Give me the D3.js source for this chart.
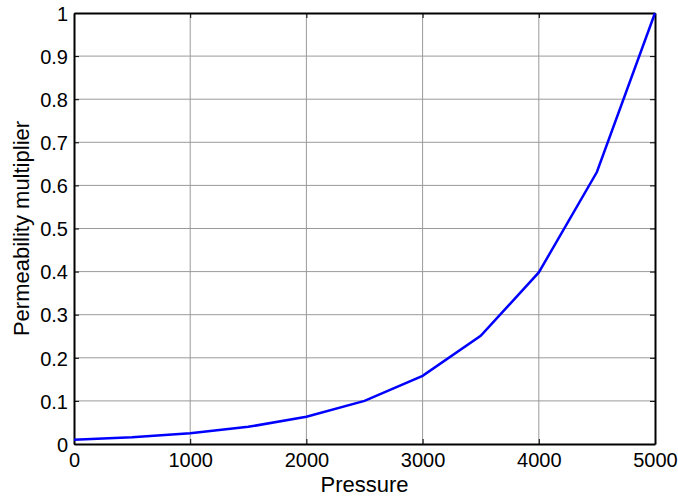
<!DOCTYPE html>
<html>
<head>
<meta charset="utf-8">
<script src="https://cdn.jsdelivr.net/npm/d3@7"></script>
<style>
  body { margin: 0; background: #fff; overflow: hidden; }
  text { font-family: "Liberation Sans", Arial, sans-serif; fill: #000; }
</style>
</head>
<body>
<div id="chart"></div>
<script>
const pressure = [0, 500, 1000, 1500, 2000, 2500, 3000, 3500, 4000, 4500, 5000];
const multiplier = [0.01, 0.0158, 0.0251, 0.0398, 0.0631, 0.1, 0.158, 0.251, 0.398, 0.631, 1.0];
const xTicks = [0, 1000, 2000, 3000, 4000, 5000];
const yTicks = [0, 0.1, 0.2, 0.3, 0.4, 0.5, 0.6, 0.7, 0.8, 0.9, 1];

const width = 678, height = 499;
const margin = { top: 13, right: 23, bottom: 55, left: 74 };
const innerWidth = width - margin.left - margin.right;
const innerHeight = height - margin.top - margin.bottom;

const svg = d3.select("#chart").append("svg")
  .attr("width", width)
  .attr("height", height)
  .style("display", "block");

const g = svg.append("g").attr("transform", `translate(${margin.left}, ${margin.top})`);

const x = d3.scaleLinear().domain([0, 5000]).range([0, innerWidth]);
const y = d3.scaleLinear().domain([0, 1]).range([innerHeight, 0]);

// grid
g.append("g").selectAll("line").data(xTicks.slice(1, -1)).join("line")
  .attr("x1", d => x(d)).attr("x2", d => x(d))
  .attr("y1", 0).attr("y2", innerHeight)
  .attr("stroke", "#9a9a9a").attr("stroke-width", 1);
g.append("g").selectAll("line").data(yTicks.slice(1, -1)).join("line")
  .attr("x1", 0).attr("x2", innerWidth)
  .attr("y1", d => y(d)).attr("y2", d => y(d))
  .attr("stroke", "#9a9a9a").attr("stroke-width", 1);

// axes (ticks pointing inward)
const fmtY = d => d3.format("")(+d.toFixed(1));
const xAxis = g.append("g").attr("transform", `translate(0, ${innerHeight})`)
  .call(d3.axisBottom(x).tickValues(xTicks).tickSizeInner(-5).tickSizeOuter(0).tickPadding(9).tickFormat(d3.format("d")));
const yAxis = g.append("g")
  .call(d3.axisLeft(y).tickValues(yTicks).tickSizeInner(-5).tickSizeOuter(0).tickPadding(6).tickFormat(fmtY));
const xTop = g.append("g")
  .call(d3.axisTop(x).tickValues(xTicks).tickSizeInner(-5).tickSizeOuter(0).tickFormat(""));
const yRight = g.append("g").attr("transform", `translate(${innerWidth}, 0)`)
  .call(d3.axisRight(y).tickValues(yTicks).tickSizeInner(-5).tickSizeOuter(0).tickFormat(""));
xTop.selectAll("text").remove();
yRight.selectAll("text").remove();

[xAxis, yAxis, xTop, yRight].forEach(a => {
  a.attr("font-family", null);
  a.selectAll("path").attr("stroke", "#000").attr("stroke-width", 2);
  a.selectAll("line").attr("stroke", "#000");
  a.selectAll("text").style("font-size", "20px").attr("fill", "#000");
});
xAxis.selectAll("text").attr("dy", "0.71em");
yAxis.selectAll("text").attr("dy", "0.36em");

// line
const line = d3.line().x((d, i) => x(pressure[i])).y(d => y(d));
g.append("path").datum(multiplier)
  .attr("fill", "none")
  .attr("stroke", "#0000ff")
  .attr("stroke-width", 2.5)
  .attr("d", line);

// labels
svg.append("text")
  .attr("x", margin.left + innerWidth / 2)
  .attr("y", 492)
  .attr("text-anchor", "middle")
  .style("font-size", "22px")
  .text("Pressure");

svg.append("text")
  .attr("transform", `translate(29, ${margin.top + innerHeight / 2}) rotate(-90)`)
  .attr("text-anchor", "middle")
  .style("font-size", "22px")
  .text("Permeability multiplier");
</script>
</body>
</html>
